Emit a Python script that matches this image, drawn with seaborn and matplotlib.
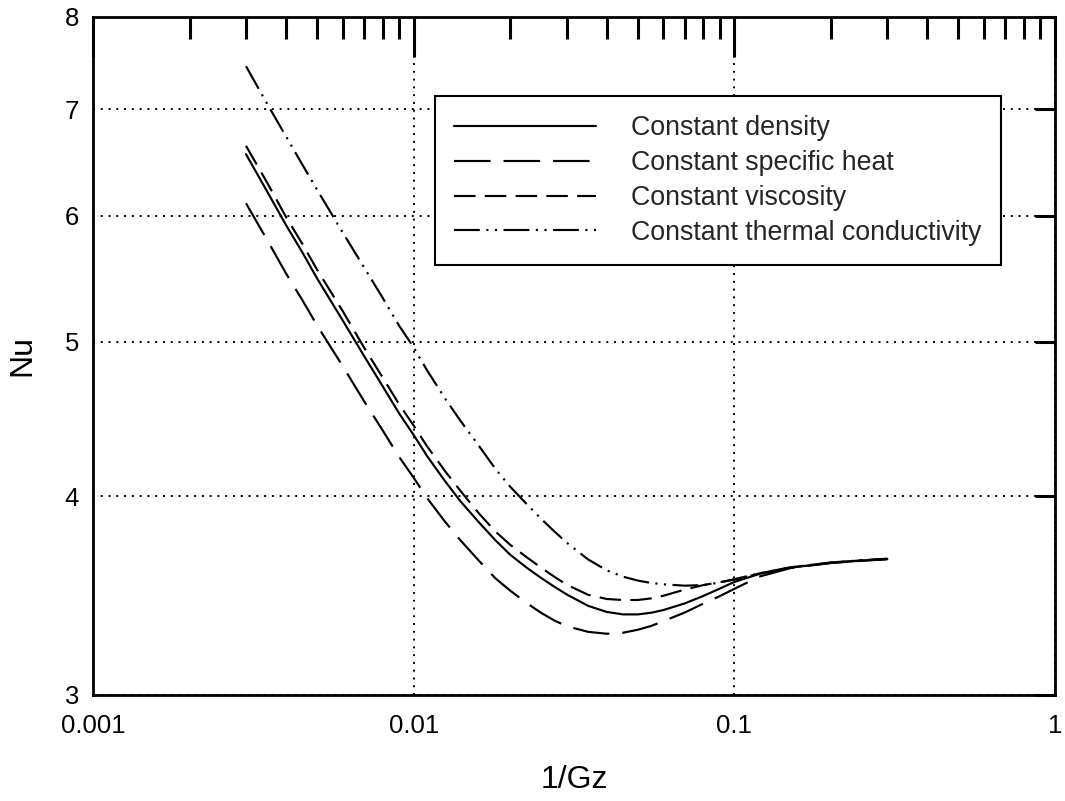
import matplotlib
matplotlib.use("Agg")
import matplotlib.pyplot as plt
import seaborn as sns
import pandas as pd
from matplotlib.ticker import FixedLocator, FixedFormatter, NullLocator, LogLocator, NullFormatter

# ---- data ----
inv_gz = [0.003, 0.0035, 0.004, 0.0045, 0.005, 0.006, 0.007, 0.008, 0.009, 0.01,
          0.011, 0.0125, 0.014, 0.016, 0.018, 0.02, 0.0225, 0.025, 0.0275, 0.03,
          0.035, 0.04, 0.045, 0.05, 0.055, 0.06, 0.07, 0.08, 0.09, 0.1,
          0.12, 0.15, 0.2, 0.25, 0.3]

nu_const_density = [6.56, 6.21, 5.92, 5.69, 5.48, 5.16, 4.90, 4.69, 4.51, 4.37,
                    4.24, 4.09, 3.97, 3.85, 3.752, 3.675, 3.607, 3.553, 3.508, 3.47,
                    3.413, 3.383, 3.371, 3.371, 3.379, 3.392, 3.425, 3.462, 3.499, 3.533,
                    3.575, 3.607, 3.632, 3.644, 3.652]
nu_const_cp = [6.11, 5.79, 5.52, 5.31, 5.12, 4.83, 4.59, 4.40, 4.235, 4.108,
               3.99, 3.857, 3.752, 3.642, 3.551, 3.489, 3.427, 3.378, 3.341, 3.314,
               3.287, 3.278, 3.283, 3.297, 3.315, 3.338, 3.380, 3.424, 3.461, 3.498,
               3.561, 3.605, 3.631, 3.643, 3.651]
nu_const_visc = [6.64, 6.29, 5.99, 5.76, 5.55, 5.23, 4.96, 4.75, 4.57, 4.43,
                 4.30, 4.15, 4.03, 3.90, 3.80, 3.728, 3.662, 3.606, 3.559, 3.519,
                 3.468, 3.447, 3.442, 3.442, 3.450, 3.463, 3.494, 3.517, 3.532, 3.545,
                 3.577, 3.608, 3.633, 3.645, 3.653]
nu_const_k = [7.45, 7.05, 6.73, 6.46, 6.23, 5.86, 5.57, 5.33, 5.12, 4.96,
              4.80, 4.61, 4.46, 4.30, 4.16, 4.055, 3.955, 3.87, 3.80, 3.74,
              3.65, 3.593, 3.56, 3.54, 3.528, 3.521, 3.514, 3.517, 3.53, 3.547,
              3.578, 3.609, 3.634, 3.646, 3.654]

series_labels = ["Constant density", "Constant specific heat",
                 "Constant viscosity", "Constant thermal conductivity"]
series_values = [nu_const_density, nu_const_cp, nu_const_visc, nu_const_k]

x_major = [0.001, 0.01, 0.1, 1]
x_major_labels = ["0.001", "0.01", "0.1", "1"]
y_major = [3, 4, 5, 6, 7, 8]
y_major_labels = ["3", "4", "5", "6", "7", "8"]

# ---- styling ----
sns.set_style("white")
plt.rcParams['font.family'] = ['Liberation Sans', 'DejaVu Sans']
plt.rcParams['lines.dash_capstyle'] = 'butt'
plt.rcParams['lines.solid_joinstyle'] = 'round'

line_styles = ['-', (0, (17, 6)), (0, (10, 4.3)), (0, (12, 3, 1, 3, 1, 3))]

fig = plt.figure(figsize=(10.65, 8.01), dpi=100)
ax = fig.add_axes([93 / 1065, 1 - 695 / 801, 962 / 1065, 678 / 801])

for lab, vals, ls in zip(series_labels, series_values, line_styles):
    df = pd.DataFrame({"x": inv_gz, "y": vals})
    sns.lineplot(data=df, x="x", y="y", ax=ax, color="black", linewidth=1.55,
                 linestyle=ls, label=lab, estimator=None, sort=True)

ax.set_xscale("log")
ax.set_yscale("log")
ax.set_xlim(0.001, 1)
ax.set_ylim(3, 8)

ax.xaxis.set_major_locator(FixedLocator(x_major))
ax.xaxis.set_major_formatter(FixedFormatter(x_major_labels))
ax.xaxis.set_minor_locator(LogLocator(base=10, subs=[2, 3, 4, 5, 6, 7, 8, 9]))
ax.xaxis.set_minor_formatter(NullFormatter())
ax.yaxis.set_major_locator(FixedLocator(y_major))
ax.yaxis.set_major_formatter(FixedFormatter(y_major_labels))
ax.yaxis.set_minor_locator(NullLocator())

ax.tick_params(which='both', direction='in', top=True, right=True, color='black',
               labelcolor='black')
ax.tick_params(axis='x', which='major', length=29, width=2.2, labelsize=18.5, pad=14)
ax.tick_params(axis='x', which='minor', length=15.5, width=2.2)
ax.tick_params(axis='y', which='major', length=14.5, width=2.2, labelsize=18.5, pad=10)

for sp in ax.spines.values():
    sp.set_visible(True)
    sp.set_color('black')
    sp.set_linewidth(2.0)

ax.grid(True, which='major', color='black', linewidth=1.4, linestyle=(0, (1, 3)))
ax.set_axisbelow(False)

ax.set_xlabel("1/Gz", fontsize=23, labelpad=19, color='black')
ax.set_ylabel("Nu", fontsize=23, labelpad=20, color='black')

leg = ax.legend(loc='upper left', bbox_to_anchor=((435 - 93) / 962, (695 - 96) / 678),
                borderaxespad=0, fontsize=19.3, frameon=True, fancybox=False,
                edgecolor='black', framealpha=1, handlelength=5.3, handletextpad=1.3,
                labelspacing=0.33, borderpad=0.72)
leg.get_frame().set_linewidth(1.5)

fig.savefig("out.png", dpi=100, facecolor='white')
